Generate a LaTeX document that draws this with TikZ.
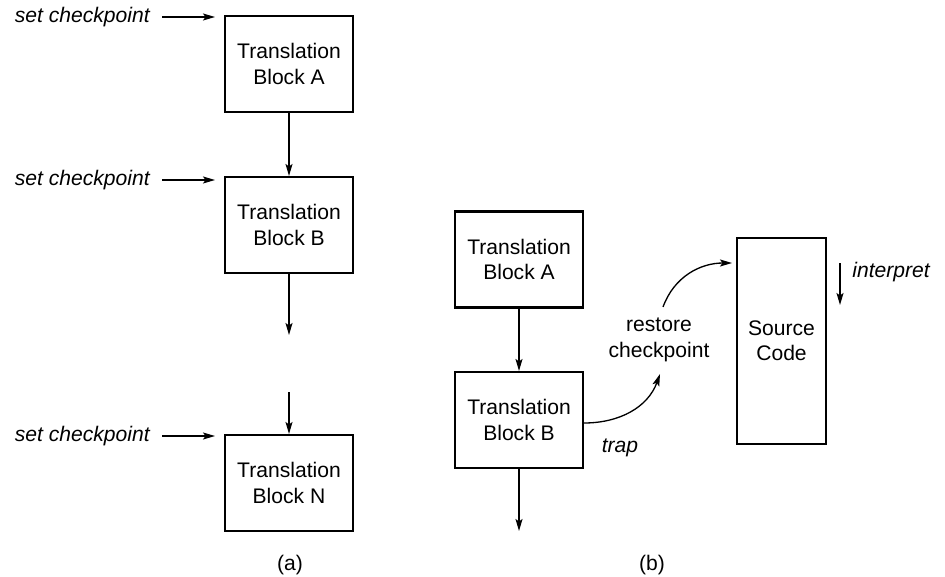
\documentclass[tikz,border=0pt]{standalone}
\usepackage{fontspec}
\setmainfont{Liberation Sans}
\usepackage{tikz}
\usetikzlibrary{positioning, arrows.meta}

\begin{document}
\begin{tikzpicture}[>={Stealth[length=2.4mm, width=1.4mm, inset=0.5mm]}, x=0.02cm, y=-0.02cm, font=\fontsize{12}{14.4}\selectfont,
    blk/.style={draw, line width=1.2pt, minimum width=2.56cm, minimum height=1.92cm, align=center, inner sep=0pt},
    lbl/.style={font=\fontsize{12}{14.4}\selectfont\itshape, inner sep=0pt},
    arr/.style={->, line width=0.75pt}]
                \useasboundingbox (0,0) rectangle (945,577);
                
                % 1. Cột (a)
                \node[blk] (blkA) at (289,64) {Translation\\Block A};
                \node[blk] (blkB) at (289,225) {Translation\\Block B};
                \node[blk] (blkN) at (289,483) {Translation\\Block N};
                \coordinate (outB) at (289,335);
                \coordinate (inN) at (289,392);
                \draw[arr] (blkA) -- (blkB);
                \draw[arr] (blkB) -- (outB);
                \draw[arr] (inN) -- (blkN);
                
                % 2. Các mốc set checkpoint
                \foreach \n/\y in {A/17,B/180,N/436} {
                    \node[lbl, anchor=east] (chk\n) at (150,\y) {set checkpoint};
                    \coordinate (hit\n) at (215,\y);
                    \draw[arr] ([xshift=12*0.02cm]chk\n.east) -- (hit\n);
                }
                \node (capA) at (290,565) {(a)};
                
                % 3. Cột (b)
                \node[blk] (bA) at (519,259.5) {Translation\\Block A};
                \node[blk] (bB) at (519,420) {Translation\\Block B};
                \node[draw, line width=1.2pt, minimum width=1.78cm, minimum height=4.12cm, align=center, inner sep=0pt]
                    (src) at (781.5,341) {Source\\Code};
                \coordinate (outbB) at (519,531);
                \draw[arr] (bA) -- (bB);
                \draw[arr] (bB) -- (outbB);
                
                % 4. Trap và restore checkpoint
                \node[align=center, inner sep=0pt] (rst) at (659,340) {restore\\checkpoint};
                \node[lbl] (trap) at (620,448) {trap};
                \coordinate (trapEnd) at (660,374);
                \coordinate (rstStart) at (663,307);
                \coordinate (srcHit) at (732,263);
                \draw[arr] (bB.east |- 0,423) to[out=0, in=-110] (trapEnd);
                \draw[arr] (rstStart) to[out=70, in=180] (srcHit);
                
                % 5. interpret
                \coordinate (intTop) at (840,263);
                \coordinate (intBot) at (840,305);
                \draw[arr] (intTop) -- (intBot);
                \node[lbl, anchor=west] (intp) at (852,272) {interpret};
                \node (capB) at (652,565) {(b)};
            \end{tikzpicture}
\end{document}
